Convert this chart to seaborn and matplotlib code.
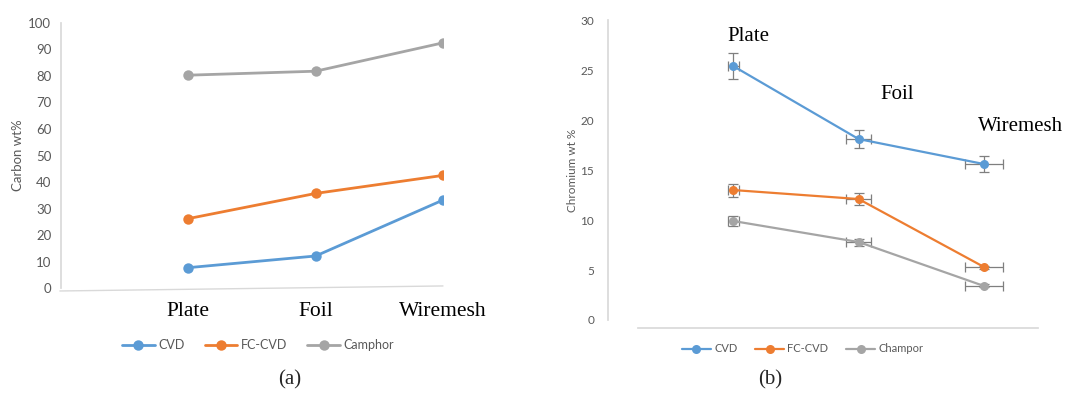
import matplotlib
matplotlib.use("Agg")
import matplotlib.pyplot as plt
import seaborn as sns
import pandas as pd

# data
substrates = ["Plate", "Foil", "Wiremesh"]
carbon_cvd = [7.7, 12.1, 33.2]
carbon_fccvd = [26.2, 35.7, 42.5]
carbon_camphor = [80.3, 81.8, 92.5]

chrom_cvd = [25.4, 18.1, 15.6]
chrom_fccvd = [13.0, 12.1, 5.3]
chrom_champor = [9.9, 7.8, 3.4]
chrom_cvd_err = [1.3, 0.9, 0.8]
chrom_fccvd_err = [0.65, 0.6, 0.15]
chrom_champor_err = [0.5, 0.35, 0.15]
x_err = [0.045, 0.1, 0.15]

colors = ["#5B9BD5", "#ED7D31", "#A5A5A5"]
grey_txt = "#595959"
axis_col = "#D9D9D9"

sns.set_theme(style="white")
plt.rcParams["font.family"] = ["Lato", "DejaVu Sans"]

fig = plt.figure(figsize=(10.76, 3.93), dpi=100)
ax1 = fig.add_axes([0.0567, 0.267, 0.355, 0.6746])
ax2 = fig.add_axes([0.565, 0.1858, 0.3996, 0.763])

pos = [1, 2, 3]

# (a) carbon
for vals, name, c in zip([carbon_cvd, carbon_fccvd, carbon_camphor],
                         ["CVD", "FC-CVD", "Camphor"], colors):
    df = pd.DataFrame({"pos": pos, "val": vals})
    sns.lineplot(data=df, x="pos", y="val", ax=ax1, color=c, linewidth=2,
                 marker="o", markersize=7.5, markeredgewidth=0, label=name)

ax1.set_xlim(0, 3)
ax1.set_ylim(0, 100)
ax1.set_yticks(range(0, 101, 10))
ax1.set_xticks(pos)
ax1.set_xticklabels(substrates, family="Liberation Serif", fontsize=15.5, color="black")
ax1.tick_params(axis="x", length=0, pad=10)
ax1.tick_params(axis="y", length=0, labelsize=9.5, labelcolor=grey_txt, pad=7)
ax1.set_xlabel("")
ax1.set_ylabel("Carbon wt%", fontsize=9.5, color=grey_txt, labelpad=3)
for s in ["top", "right", "bottom"]:
    ax1.spines[s].set_visible(False)
ax1.spines["left"].set_color(axis_col)
# slanted base line like the original
ax1.plot([-0.003, 1.0], [-0.011, 0.008], transform=ax1.transAxes,
         color=axis_col, linewidth=1, clip_on=False)
ax1.legend(loc="center", bbox_to_anchor=(0.24, 0.122), bbox_transform=fig.transFigure,
           ncol=3, frameon=False, fontsize=9, labelcolor=grey_txt,
           handlelength=2.6, columnspacing=1.6, handletextpad=0.3)

# (b) chromium
for vals, errs, name, c in zip([chrom_cvd, chrom_fccvd, chrom_champor],
                               [chrom_cvd_err, chrom_fccvd_err, chrom_champor_err],
                               ["CVD", "FC-CVD", "Champor"], colors):
    df = pd.DataFrame({"pos": pos, "val": vals})
    ax2.errorbar(pos, vals, yerr=errs, xerr=x_err, fmt="none", ecolor="#7F7F7F",
                 elinewidth=0.9, capsize=3.5, capthick=0.9, zorder=1)
    sns.lineplot(data=df, x="pos", y="val", ax=ax2, color=c, linewidth=1.6,
                 marker="o", markersize=6.5, markeredgewidth=0, label=name, zorder=3)

ax2.set_xlim(0, 3.43)
ax2.set_ylim(0, 30)
ax2.set_yticks(range(0, 31, 5))
ax2.set_xticks([])
ax2.tick_params(axis="y", length=0, labelsize=8.5, labelcolor=grey_txt, pad=10)
ax2.set_xlabel("")
ax2.set_ylabel("Chromium wt %", fontsize=8.5, color=grey_txt, labelpad=1.5)
for s in ["top", "right"]:
    ax2.spines[s].set_visible(False)
ax2.spines["left"].set_color(axis_col)
ax2.spines["bottom"].set_color(axis_col)
ax2.spines["bottom"].set_position(("outward", 6))
ax2.spines["bottom"].set_bounds(0.24, 3.43)

label_x = [1.117, 2.306, 3.288]
label_y = [28.4, 22.6, 19.4]
for t, lx, ly in zip(substrates, label_x, label_y):
    ax2.text(lx, ly, t, ha="center", va="center", fontsize=15,
             family="Liberation Serif", color="black")

ax2.legend(loc="center", bbox_to_anchor=(0.746, 0.112), bbox_transform=fig.transFigure,
           ncol=3, frameon=False, fontsize=8, labelcolor=grey_txt,
           handlelength=2.6, columnspacing=1.6, handletextpad=0.3)

fig.text(0.2695, 0.033, "(a)", ha="center", va="center", fontsize=15,
         family="Liberation Serif")
fig.text(0.7156, 0.033, "(b)", ha="center", va="center", fontsize=15,
         family="Liberation Serif")

fig.savefig("out.png", dpi=100)
